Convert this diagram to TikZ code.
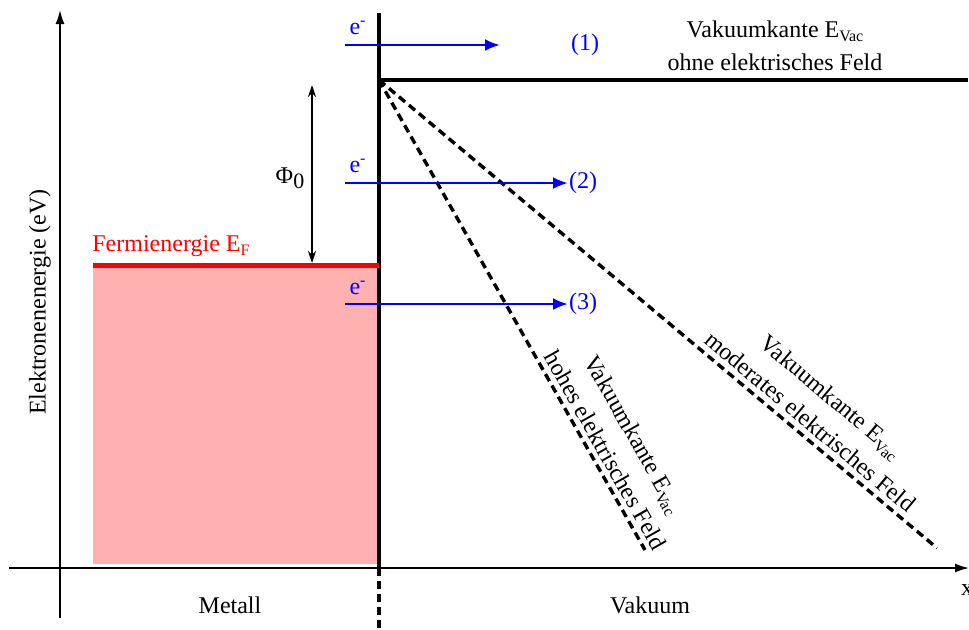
\documentclass[tikz,border=0pt]{standalone}
\usepackage{fontspec}
\setmainfont{Liberation Serif}
\newfontfamily\tnr{Liberation Serif}
\usetikzlibrary{arrows.meta}
\definecolor{pinkfill}{RGB}{255,176,176}
\newcommand\mysub[1]{\raisebox{-0.45ex}{\fontsize{8}{9}\selectfont #1}}
\begin{document}
\begin{tikzpicture}[x=0.5pt,y=-0.5pt,
  lbl/.style={font=\tnr\fontsize{12}{16.5}\selectfont, inner sep=0pt, align=center},
  axisline/.style={line width=0.8pt,-{Latex[length=7pt,width=4.5pt]}},
  bluearrow/.style={blue,line width=1.25pt,-{Latex[length=7.5pt,width=6pt]}},
  vdash/.style={line width=1.7pt,dash pattern=on 4pt off 2.5pt},
  thickline/.style={line width=1.6pt}]
\useasboundingbox (0,0) rectangle (969,629);
% coordinates
\coordinate (yb) at (60,618);
\coordinate (yt) at (60,10);
\coordinate (xl) at (9,568);
\coordinate (xr) at (969,568);
\coordinate (itop) at (379,13);
\coordinate (ibot) at (379,568);
\coordinate (iend) at (379,629);
\coordinate (vac) at (379,80);
\coordinate (vacr) at (968,80);
\coordinate (fl) at (93,265);
\coordinate (fr) at (379,265);
\coordinate (hi) at (645,550);
\coordinate (mod) at (937,548);
\coordinate (p1) at (312,85);
\coordinate (p2) at (312,263);
\coordinate (s1) at (345,45);
\coordinate (e1) at (500,45);
\coordinate (s2) at (345,183);
\coordinate (e2) at (568,183);
\coordinate (s3) at (345,304);
\coordinate (e3) at (568,304);
% fill
\fill[pinkfill] (93,267) rectangle (378,564);
% axes
\draw[axisline] (yb) -- (yt);
\draw[axisline] (xl) -- (xr);
\node[lbl] (xlab) at (967,590) {x};
\node[lbl,rotate=90] (ylab) at (40,302) {Elektronenenergie (eV)};
% interface
\draw[thickline] (itop) -- (ibot);
\draw[vdash] (ibot) -- (iend);
\draw[thickline] (vac) -- (vacr);
% fermi
\draw[red,line width=2.5pt] (fl) -- (fr);
\node[lbl,red,anchor=base west] (ef) at (92,251) {Fermienergie E\mysub{F}};
% phi
\draw[line width=0.7pt,{Stealth[length=6pt,width=4pt]}-{Stealth[length=6pt,width=4pt]}] (p1) -- (p2);
\node[lbl] (phi) at (290,178) {Φ\raisebox{-0.5ex}{\fontsize{11}{12}\selectfont 0}};
% dashed vacuum edges
\draw[vdash] (vac) -- (hi);
\draw[vdash] (vac) -- (mod);
% labels
\node[lbl,anchor=base] (top1) at (775,37) {Vakuumkante E\mysub{Vac}};
\node[lbl,anchor=base] (top2) at (775,70) {ohne elektrisches Feld};
\node[lbl,rotate=-60.5] (hilab) at (620,442) {Vakuumkante E\mysub{Vac}\\hohes elektrisches Feld};
\node[lbl,rotate=-40] (modlab) at (821,409) {Vakuumkante E\mysub{Vac}\\moderates elektrisches Feld};
% electrons
\draw[bluearrow] (s1) -- (e1);
\draw[bluearrow] (s2) -- (e2);
\draw[bluearrow] (s3) -- (e3);
\node[lbl,blue] (el1) at (358,28) {e\textsuperscript{-}};
\node[lbl,blue] (el2) at (358,166) {e\textsuperscript{-}};
\node[lbl,blue] (el3) at (358,288) {e\textsuperscript{-}};
\node[lbl,blue] (n1) at (585,45) {(1)};
\node[lbl,blue] (n2) at (583,183) {(2)};
\node[lbl,blue] (n3) at (583,304) {(3)};
% bottom
\node[lbl] (metall) at (230,605) {Metall};
\node[lbl] (vakuum) at (650,605) {Vakuum};
\end{tikzpicture}
\end{document}
